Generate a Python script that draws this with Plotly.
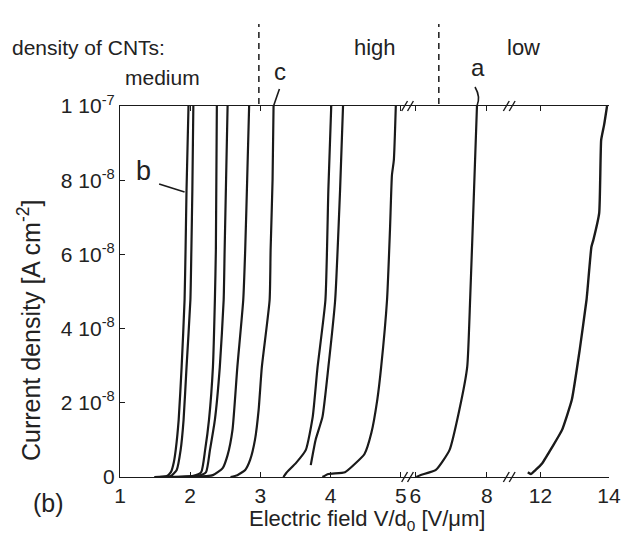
import plotly.graph_objects as go

# Current density values in units of 1e-8 A/cm^2, electric field in V/um
b1_x = [1.488, 1.669, 1.725, 1.767, 1.794, 1.836, 1.878, 1.920, 1.934, 1.948, 1.976]
b1_y = [0, 0.03, 0.13, 0.40, 0.73, 1.54, 2.96, 4.77, 6.12, 7.74, 10]
b2_x = [1.557, 1.725, 1.808, 1.864, 1.906, 1.948, 2.003, 2.017, 2.031, 2.045]
b2_y = [0, 0.03, 0.19, 0.73, 1.54, 2.96, 4.77, 6.12, 7.74, 10]
m3_x = [1.697, 2.045, 2.157, 2.213, 2.268, 2.324, 2.352, 2.366, 2.380]
m3_y = [0, 0.03, 0.13, 0.73, 1.54, 2.96, 4.77, 6.12, 10]
m4_x = [1.836, 2.115, 2.226, 2.282, 2.352, 2.422, 2.477, 2.491, 2.533]
m4_y = [0, 0.03, 0.13, 0.73, 1.54, 2.96, 4.77, 6.12, 10]
m5_x = [2.045, 2.324, 2.463, 2.533, 2.603, 2.672, 2.756, 2.784, 2.812, 2.840]
m5_y = [0, 0.05, 0.24, 0.59, 1.27, 2.96, 4.77, 6.12, 8.01, 10]
c_x = [2.575, 2.672, 2.784, 2.854, 2.923, 2.975, 3.021, 3.132, 3.146, 3.174, 3.188]
c_y = [0, 0.05, 0.19, 0.46, 1.0, 1.8, 2.96, 4.77, 6.12, 8.01, 10]
h7_x = [3.328, 3.369, 3.509, 3.648, 3.746, 3.815, 3.927, 3.969, 4.010]
h7_y = [0, 0.11, 0.38, 0.73, 1.62, 2.96, 4.77, 7.74, 10]
h8_x = [3.718, 3.787, 3.885, 3.969, 4.066, 4.136, 4.178]
h8_y = [0.32, 1.0, 1.62, 2.96, 4.77, 7.74, 10]
h9_x = [3.885, 3.969, 4.206, 4.345, 4.484, 4.582, 4.666, 4.721, 4.805, 4.847, 4.875, 4.902, 4.930]
h9_y = [0, 0.08, 0.13, 0.35, 0.62, 1.19, 2.08, 2.96, 4.77, 6.66, 8.14, 8.54, 10]
a_x = [6.027, 6.137, 6.575, 6.959, 7.233, 7.452, 7.534, 7.644, 7.726]
a_y = [0, 0.05, 0.19, 0.73, 1.81, 2.96, 4.77, 7.74, 10]
low_x = [11.629, 11.714, 11.857, 12.057, 12.343, 12.629, 12.914, 13.143, 13.343, 13.371,
         13.486, 13.543, 13.714, 13.771, 13.857, 13.943]
low_y = [0.13, 0.08, 0.19, 0.38, 0.81, 1.27, 2.08, 3.42, 4.77, 5.04, 6.2, 6.39, 7.12, 9.08, 9.49, 10]

seg1_ticks = [1, 2, 3, 4, 5]
seg2_ticks = [6, 8]
seg3_ticks = [12, 14]
y_ticks = [0, 2, 4, 6, 8, 10]
y_ticktext = ["0", "2 10<sup>-8</sup>", "4 10<sup>-8</sup>", "6 10<sup>-8</sup>",
              "8 10<sup>-8</sup>", "1 10<sup>-7</sup>"]

FONT = "Liberation Sans, Arial, sans-serif"
INK = "#1a1a1a"
TXT = "#222"

fig = go.Figure()
curves1 = [(b1_x, b1_y), (b2_x, b2_y), (m3_x, m3_y), (m4_x, m4_y), (m5_x, m5_y),
           (c_x, c_y), (h7_x, h7_y), (h8_x, h8_y), (h9_x, h9_y)]
for xs, ys in curves1:
    fig.add_trace(go.Scatter(x=xs, y=ys, mode="lines", xaxis="x", yaxis="y",
                             line=dict(color=INK, width=2.2, shape="spline", smoothing=0.5),
                             showlegend=False, hoverinfo="skip"))
fig.add_trace(go.Scatter(x=a_x, y=a_y, mode="lines", xaxis="x2", yaxis="y",
                         line=dict(color=INK, width=2.2, shape="spline", smoothing=0.5),
                         showlegend=False, hoverinfo="skip"))
fig.add_trace(go.Scatter(x=low_x, y=low_y, mode="lines", xaxis="x3", yaxis="y",
                         line=dict(color=INK, width=2.4, shape="spline", smoothing=0.4),
                         showlegend=False, hoverinfo="skip"))

axis_common = dict(showline=True, linecolor=INK, linewidth=1.2, ticks="inside",
                   ticklen=5, tickcolor=INK, showgrid=False, zeroline=False,
                   tickfont=dict(family=FONT, size=21, color=TXT))

fig.update_layout(
    width=633, height=538,
    margin=dict(l=120, r=13, t=106, b=61),
    paper_bgcolor="white", plot_bgcolor="white",
    xaxis=dict(domain=[0, 0.59], range=[1, 5.111], tickvals=seg1_ticks, anchor="y",
               mirror="ticks", **axis_common),
    xaxis2=dict(domain=[0.59, 0.80], range=[5.808, 8.685], tickvals=seg2_ticks, anchor="y",
                mirror="ticks", **axis_common),
    xaxis3=dict(domain=[0.80, 1.0], range=[11.143, 14], tickvals=seg3_ticks, anchor="y",
                mirror="ticks", **axis_common),
    yaxis=dict(range=[0, 10], tickvals=y_ticks, ticktext=y_ticktext, anchor="x",
               **axis_common),
    yaxis2=dict(range=[0, 10], tickvals=y_ticks, overlaying="y", anchor="x3", side="right",
                showticklabels=False, **axis_common),
)

def px2paper(px, py):
    return (px - 120) / 500.0, (477 - py) / 371.0

shapes = []
# dashed separators
for px in (262, 446):
    x0, y0 = px2paper(px, 104)
    _, y1 = px2paper(px, 24)
    shapes.append(dict(type="line", xref="paper", yref="paper", x0=x0, x1=x0, y0=y0, y1=y1,
                       line=dict(color=INK, width=1.5, dash="6px,5px")))
# leader lines
lx0, ly0 = px2paper(283, 89); lx1, ly1 = px2paper(277, 106)
shapes.append(dict(type="line", xref="paper", yref="paper", x0=lx0, y0=ly0, x1=lx1, y1=ly1,
                   line=dict(color=INK, width=1.6)))
bx0, by0 = px2paper(160, 184); bx1, by1 = px2paper(186, 192)
shapes.append(dict(type="line", xref="paper", yref="paper", x0=bx0, y0=by0, x1=bx1, y1=by1,
                   line=dict(color=INK, width=1.6)))
p0 = px2paper(483, 87); p1 = px2paper(489, 97); p2 = px2paper(485, 106)
shapes.append(dict(type="path", xref="paper", yref="paper",
                   path=f"M {p0[0]},{p0[1]} Q {p1[0]},{p1[1]} {p2[0]},{p2[1]}",
                   line=dict(color=INK, width=1.6)))
# axis break marks
for bpx in (411, 417, 515, 521):
    for bpy in (477, 106):
        sx0, sy0 = px2paper(bpx - 3, bpy + 5)
        sx1, sy1 = px2paper(bpx + 3, bpy - 5)
        shapes.append(dict(type="line", xref="paper", yref="paper", x0=sx0, y0=sy0,
                           x1=sx1, y1=sy1, line=dict(color=INK, width=1.4)))
fig.update_layout(shapes=shapes)

def ann(text, px, py, size, angle=0):
    x, y = px2paper(px, py)
    fig.add_annotation(text=text, x=x, y=y, xref="paper", yref="paper", showarrow=False,
                       xanchor="center", yanchor="middle", textangle=angle,
                       font=dict(family=FONT, size=size, color=TXT))

ann("density of CNTs:", 88, 47, 21)
ann("high", 381, 47, 22)
ann("low", 533, 47, 22)
ann("medium", 163, 77, 21)
ann("c", 284, 71, 24)
ann("a", 486, 67, 24)
ann("b", 144, 171, 27)
ann("(b)", 47, 503, 25)
ann("Electric field V/d<sub>0</sub> [V/μm]", 373, 520, 22)
ann("Current density [A cm<sup>-2</sup>]", 27, 330, 25, angle=-90)

# remove the default 8px page margin so the figure fills the window exactly
fig.write_html("out.html", config={"displayModeBar": False},
               post_script="document.body.style.margin='0';document.body.style.overflow='hidden';")
